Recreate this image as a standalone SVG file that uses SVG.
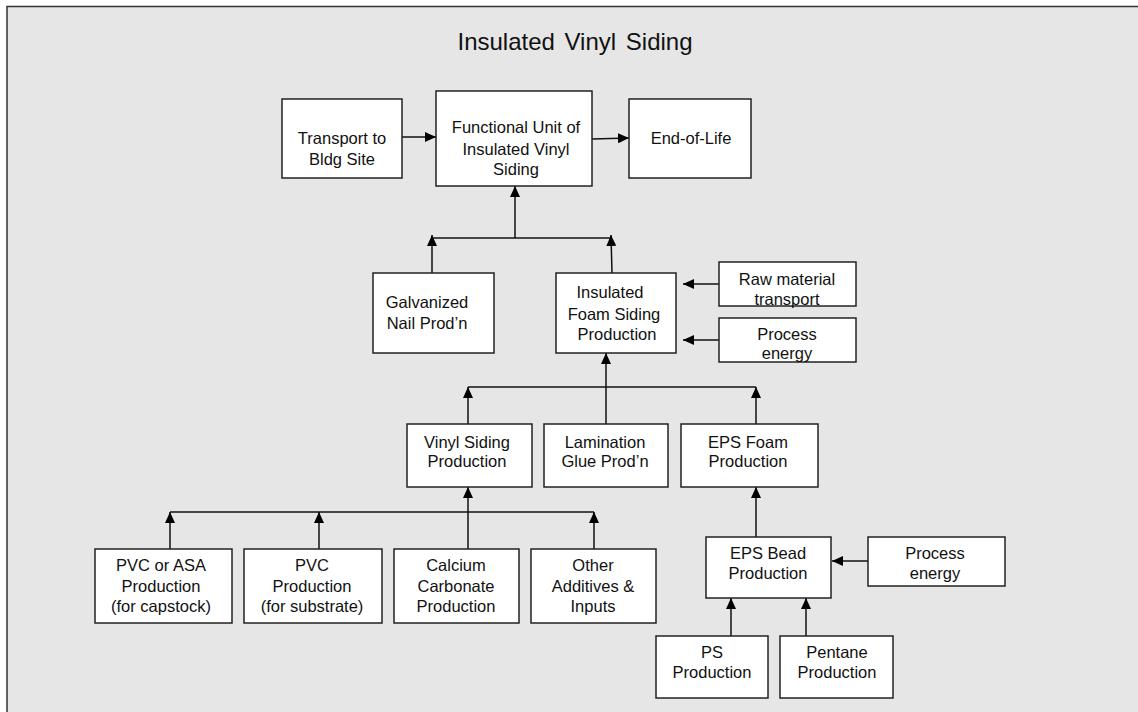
<svg xmlns="http://www.w3.org/2000/svg" width="1138" height="712" viewBox="0 0 1138 712">
<defs>
<marker id="ah" viewBox="0 0 11 10" markerWidth="11" markerHeight="10" refX="11" refY="5" orient="auto" markerUnits="userSpaceOnUse">
<path d="M0,0 L11,5 L0,10 z" fill="#000"/>
</marker>
<style>
.box{fill:#fff;stroke:#222;stroke-width:1.5}
.t{font-family:"Liberation Sans",Arial,sans-serif;font-size:16.5px;fill:#111;text-anchor:middle}
.c{fill:none;stroke:#111;stroke-width:1.5}
.a{fill:none;stroke:#111;stroke-width:1.5;marker-end:url(#ah)}
</style>
</defs>
<rect x="0" y="0" width="1138" height="712" fill="#fff"/>
<rect x="7" y="6.5" width="1140" height="720" fill="#e6e6e6" stroke="#333" stroke-width="1.5"/>
<text x="575" y="50" font-family="Liberation Sans, Arial, sans-serif" font-size="24" text-anchor="middle" fill="#111" word-spacing="3">Insulated Vinyl Siding</text>

<g id="connectors">
<line class="a" x1="402" y1="137" x2="436" y2="137"/>
<line class="a" x1="592" y1="139" x2="629" y2="138"/>
<line class="a" x1="515" y1="238" x2="515" y2="186"/>
<line class="c" x1="432" y1="238" x2="611" y2="238"/>
<line class="a" x1="432" y1="273" x2="432" y2="235"/>
<line class="a" x1="612" y1="273" x2="611" y2="235"/>
<line class="a" x1="719" y1="284" x2="683" y2="284"/>
<line class="a" x1="719" y1="340" x2="683" y2="340"/>
<line class="a" x1="606" y1="424" x2="606" y2="353"/>
<line class="c" x1="468" y1="387" x2="756" y2="387"/>
<line class="a" x1="468" y1="424" x2="468" y2="387"/>
<line class="a" x1="756" y1="424" x2="756" y2="387"/>
<line class="a" x1="468" y1="549" x2="468" y2="487"/>
<line class="c" x1="170" y1="512" x2="594" y2="512"/>
<line class="a" x1="170" y1="549" x2="170" y2="512"/>
<line class="a" x1="319" y1="549" x2="319" y2="512"/>
<line class="a" x1="594" y1="549" x2="594" y2="512"/>
<line class="a" x1="756" y1="537" x2="756" y2="487"/>
<line class="a" x1="868" y1="561" x2="832" y2="561"/>
<line class="a" x1="731" y1="636" x2="731" y2="598"/>
<line class="a" x1="806" y1="636" x2="806" y2="598"/>
</g>

<g id="transport">
<rect class="box" x="282" y="99" width="120" height="79"/>
<text class="t" x="342" y="144">Transport to</text>
<text class="t" x="342" y="165">Bldg Site</text>
</g>
<g id="functional-unit">
<rect class="box" x="436" y="91" width="156" height="95"/>
<text class="t" x="516" y="133">Functional Unit of</text>
<text class="t" x="516" y="155">Insulated Vinyl</text>
<text class="t" x="516" y="175">Siding</text>
</g>
<g id="end-of-life">
<rect class="box" x="629" y="99" width="122" height="79"/>
<text class="t" x="691" y="144">End-of-Life</text>
</g>
<g id="galvanized">
<rect class="box" x="373" y="273" width="121" height="80"/>
<text class="t" x="427" y="308">Galvanized</text>
<text class="t" x="427" y="329">Nail Prod’n</text>
</g>
<g id="foam-siding">
<rect class="box" x="556" y="273" width="120" height="80"/>
<text class="t" x="610" y="298">Insulated</text>
<text class="t" x="614" y="320">Foam Siding</text>
<text class="t" x="617" y="340">Production</text>
</g>
<g id="raw-transport">
<rect class="box" x="719" y="262" width="137" height="44"/>
<text class="t" x="787" y="285">Raw material</text>
<text class="t" x="787" y="305">transport</text>
</g>
<g id="process-energy-1">
<rect class="box" x="719" y="318" width="137" height="44"/>
<text class="t" x="787" y="340">Process</text>
<text class="t" x="787" y="359">energy</text>
</g>
<g id="vinyl-siding">
<rect class="box" x="407" y="424" width="125" height="63"/>
<text class="t" x="467" y="448">Vinyl Siding</text>
<text class="t" x="467" y="467">Production</text>
</g>
<g id="lamination">
<rect class="box" x="544" y="424" width="124" height="63"/>
<text class="t" x="605" y="448">Lamination</text>
<text class="t" x="605" y="467">Glue Prod’n</text>
</g>
<g id="eps-foam">
<rect class="box" x="681" y="424" width="137" height="63"/>
<text class="t" x="748" y="448">EPS Foam</text>
<text class="t" x="748" y="467">Production</text>
</g>
<g id="pvc-asa">
<rect class="box" x="95" y="549" width="137" height="74"/>
<text class="t" x="161" y="571">PVC or ASA</text>
<text class="t" x="161" y="592">Production</text>
<text class="t" x="161" y="612">(for capstock)</text>
</g>
<g id="pvc">
<rect class="box" x="244" y="549" width="138" height="74"/>
<text class="t" x="312" y="571">PVC</text>
<text class="t" x="312" y="592">Production</text>
<text class="t" x="312" y="612">(for substrate)</text>
</g>
<g id="calcium">
<rect class="box" x="394" y="549" width="125" height="74"/>
<text class="t" x="456" y="571">Calcium</text>
<text class="t" x="456" y="592">Carbonate</text>
<text class="t" x="456" y="612">Production</text>
</g>
<g id="other">
<rect class="box" x="531" y="549" width="125" height="74"/>
<text class="t" x="593" y="571">Other</text>
<text class="t" x="593" y="592">Additives &amp;</text>
<text class="t" x="593" y="612">Inputs</text>
</g>
<g id="eps-bead">
<rect class="box" x="706" y="537" width="125" height="61"/>
<text class="t" x="768" y="559">EPS Bead</text>
<text class="t" x="768" y="579">Production</text>
</g>
<g id="process-energy-2">
<rect class="box" x="868" y="537" width="137" height="49"/>
<text class="t" x="935" y="559">Process</text>
<text class="t" x="935" y="579">energy</text>
</g>
<g id="ps">
<rect class="box" x="656" y="636" width="112" height="62"/>
<text class="t" x="712" y="658">PS</text>
<text class="t" x="712" y="678">Production</text>
</g>
<g id="pentane">
<rect class="box" x="780" y="636" width="113" height="62"/>
<text class="t" x="837" y="658">Pentane</text>
<text class="t" x="837" y="678">Production</text>
</g>
</svg>
